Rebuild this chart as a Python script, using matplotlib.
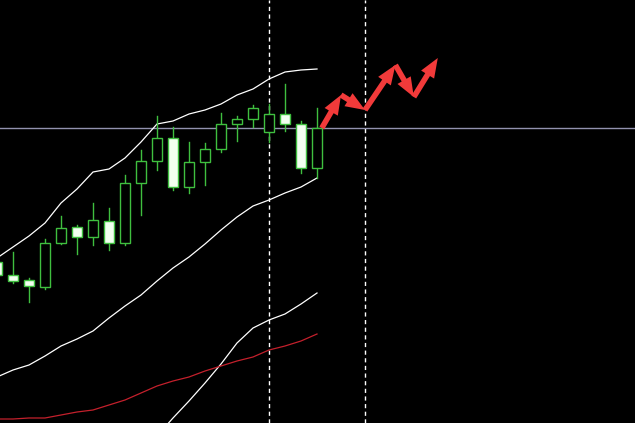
import numpy as np
import matplotlib
matplotlib.use("Agg")
import matplotlib.pyplot as plt
from matplotlib.patches import Rectangle, FancyArrowPatch

###
# DATA (bar index, price levels)
###
bars = list(range(21))
opens = [161, 148, 143, 136, 180, 196, 186, 202, 180, 240, 262,
         285, 236, 261, 274, 299, 304, 291, 309, 299, 255]
highs = [168, 171, 145, 184, 207, 198, 220, 215, 248, 273, 307,
         296, 281, 280, 310, 307, 318, 319, 339, 302, 315]
lows = [143, 140, 121, 134, 179, 169, 178, 173, 178, 208, 253,
        233, 230, 238, 271, 282, 296, 281, 292, 250, 245]
closes = [148, 142, 137, 180, 195, 186, 203, 180, 240, 262, 285,
          236, 261, 274, 299, 304, 315, 309, 299, 255, 295]

upper_band = [165, 176, 187, 200, 220, 234, 251, 254, 265, 281, 299,
              302, 309, 313, 319, 328, 334, 344, 351, 353, 354]
lower_band = [46, 53, 58, 67, 77, 84, 92, 105, 117, 128, 142,
              155, 166, 179, 193, 206, 217, 223, 230, 236, 245]
red_ma = [4, 4, 5, 5, 8, 11, 13, 18, 23, 30, 37,
          42, 46, 52, 57, 62, 66, 73, 77, 82, 89]
slow_bars = list(range(10, 21))
slow_ma = [-13, 5, 22, 40, 59, 80, 95, 103, 109, 119, 130]

level = 295
vlines = [17, 23]
# forecast path drawn as arrows
path_x = [20.3, 21.5, 23.0, 24.9, 26.05, 27.55]
path_y = [295, 328, 313, 358, 326, 365]

###
# PLOT
###
fig = plt.figure(figsize=(6.35, 4.23), dpi=100, facecolor="black")
ax = fig.add_axes([0, 0, 1, 1])
ax.set_facecolor("black")
ax.set_xlim(0.1875, 39.875)
ax.set_ylim(0, 423)
ax.axis("off")

green = "#3fbf3f"
w = 0.62
for i, o, h, l, c in zip(bars, opens, highs, lows, closes):
    top, bot = max(o, c), min(o, c)
    ax.plot([i, i], [top, h], color=green, lw=1, zorder=3)
    ax.plot([i, i], [l, bot], color=green, lw=1, zorder=3)
    fill = "black" if c > o else "#f2fff0"
    ax.add_patch(Rectangle((i - w / 2, bot), w, top - bot, facecolor=fill,
                           edgecolor=green, lw=1, zorder=4))

ax.plot(bars, upper_band, color="white", lw=0.9, zorder=2)
ax.plot(bars, lower_band, color="white", lw=0.9, zorder=2)
ax.plot(slow_bars, slow_ma, color="white", lw=0.9, zorder=2)
ax.plot(bars, red_ma, color="#c4202c", lw=0.9, zorder=2)

ax.axhline(level, color="#9292ae", lw=1, zorder=1)
for v in vlines:
    ax.axvline(v, color="white", lw=1, ls=(0, (3, 2.5)), zorder=1)

for k in range(len(path_x) - 1):
    arr = FancyArrowPatch((path_x[k], path_y[k]), (path_x[k + 1], path_y[k + 1]),
                          arrowstyle="simple,head_width=11,head_length=14,tail_width=4",
                          color="#f23a3a", lw=0, zorder=5, shrinkA=0, shrinkB=0)
    ax.add_patch(arr)

fig.savefig("out.png", dpi=100, facecolor="black")
